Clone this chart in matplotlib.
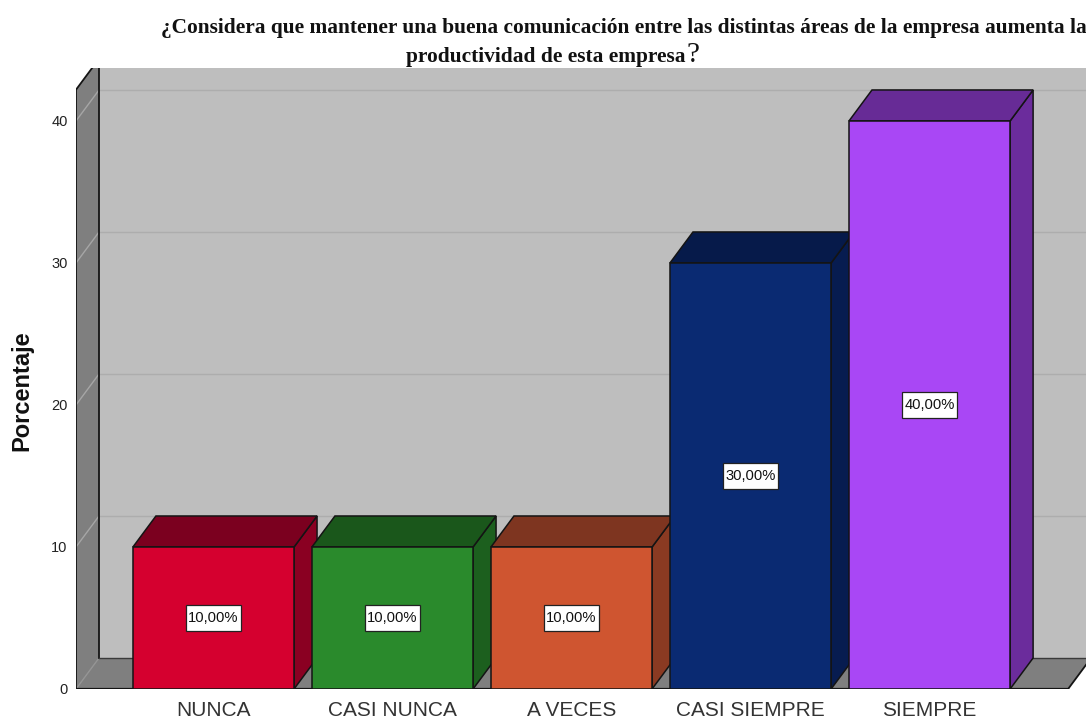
import matplotlib
matplotlib.use("Agg")
import matplotlib.pyplot as plt
from matplotlib.patches import Polygon, Rectangle

categories = ["NUNCA", "CASI NUNCA", "A VECES", "CASI SIEMPRE", "SIEMPRE"]
porcentajes = [10, 10, 10, 30, 40]
etiquetas = ["10,00%", "10,00%", "10,00%", "30,00%", "40,00%"]
y_ticks = [0, 10, 20, 30, 40]

front_colors = ["#d5002f", "#2a8a2c", "#cf5530", "#0a2a72", "#a947f5"]
top_colors = ["#7b001f", "#1a571b", "#7e3520", "#061a4a", "#672b96"]
side_colors = ["#8a0022", "#1c5f1e", "#8a3a22", "#071c50", "#6b2c9c"]

titulo_1 = "¿Considera que mantener una buena comunicación entre las distintas áreas de la empresa aumenta la"
titulo_2 = "productividad de esta empresa"

# 3D look: every box is shifted by this much towards the back
dx = 0.1285
dy = 2.183
bar_w = 0.9
x_min, x_max = -0.768, 4.874
y_max = 43.73
wall_top = 42.2
floor_end = 4.774
edge = "#141414"

plt.rcParams["font.family"] = ["Liberation Sans", "DejaVu Sans"]

fig = plt.figure(figsize=(10.86, 7.22), dpi=100)
ax = fig.add_axes([76 / 1086, (722 - 689) / 722, 1010 / 1086, 621 / 722])
ax.set_xlim(x_min, x_max)
ax.set_ylim(0, y_max)
for s in ax.spines.values():
    s.set_visible(False)

#Walls
ax.add_patch(Polygon([(x_min + dx, dy), (x_max, dy), (x_max, y_max), (x_min + dx, y_max)],
                     fc="#bebebe", ec="none", zorder=1))
ax.add_patch(Polygon([(x_min, 0), (x_min + dx, dy), (x_min + dx, wall_top + dy), (x_min, wall_top)],
                     fc="#7f7f7f", ec="none", zorder=1))
ax.add_patch(Polygon([(x_min, 0), (floor_end, 0), (floor_end + dx, dy), (x_min + dx, dy)],
                     fc="#7f7f7f", ec="none", zorder=1))

#Grid on the back and left walls
for t in y_ticks[1:]:
    ax.plot([x_min + dx, x_max], [t + dy, t + dy], color="#adadad", lw=1, zorder=2)
    ax.plot([x_min, x_min + dx], [t, t + dy], color="#a6a6a6", lw=1, zorder=2)
ax.plot([x_min, x_min + dx], [0, dy], color="#949494", lw=1, zorder=2)

#Wall outlines
ax.plot([x_min, x_min, x_min + dx], [0, wall_top, wall_top + dy], color=edge, lw=1.3, zorder=3)
ax.plot([x_min + dx, x_min + dx], [dy, y_max], color=edge, lw=1.3, zorder=3)
ax.plot([x_min + dx, x_max], [dy, dy], color="#3a3a3a", lw=1, zorder=3)
ax.plot([floor_end, floor_end + dx], [0, dy], color=edge, lw=1.3, zorder=3)
ax.plot([x_min, floor_end], [0, 0], color=edge, lw=1.6, zorder=3)

#Bars
box_w = 55 / 179
box_h = 26 / 14.2
for i in range(len(categories)):
    v = porcentajes[i]
    l = i - bar_w / 2
    r = i + bar_w / 2
    z = 4 + i
    ax.add_patch(Polygon([(r, 0), (r + dx, dy), (r + dx, v + dy), (r, v)],
                         fc=side_colors[i], ec=edge, lw=1.1, zorder=z))
    ax.add_patch(Polygon([(l, v), (r, v), (r + dx, v + dy), (l + dx, v + dy)],
                         fc=top_colors[i], ec=edge, lw=1.1, zorder=z))
    ax.add_patch(Polygon([(l, 0), (r, 0), (r, v), (l, v)],
                         fc=front_colors[i], ec=edge, lw=1.1, zorder=z))
    ax.add_patch(Rectangle((i - box_w / 2, v / 2 - box_h / 2), box_w, box_h,
                           fc="white", ec="#222222", lw=0.9, zorder=20))
    ax.text(i, v / 2, etiquetas[i], ha="center", va="center", fontsize=10.6, color="#111111", zorder=21)

ax.set_xticks(range(len(categories)))
ax.set_xticklabels(categories, fontsize=15, color="#333333")
ax.set_yticks(y_ticks)
ax.set_yticklabels([str(t) for t in y_ticks], fontsize=10.5, color="#222222")
ax.tick_params(axis="x", length=0, pad=9)
ax.tick_params(axis="y", length=0, pad=6)
ax.set_ylabel("Porcentaje", fontsize=17, fontweight="bold", color="#111111")
ax.yaxis.set_label_coords(-43 / 1010, 0.481)

#Title, the closing sign is set in a larger regular serif
serif = ["Liberation Serif", "DejaVu Serif"]
fig.text(624 / 1086, 1 - 33 / 722, titulo_1, ha="center", va="baseline", family=serif,
         fontweight="bold", fontsize=15.42, color="#111111")
fig.text(406 / 1086, 1 - 62 / 722, titulo_2, ha="left", va="baseline", family=serif,
         fontweight="bold", fontsize=15.42, color="#111111")
fig.text(687 / 1086, 1 - 62 / 722, "?", ha="left", va="baseline", family=serif,
         fontsize=21, color="#111111")

fig.savefig("out.png", dpi=100)
